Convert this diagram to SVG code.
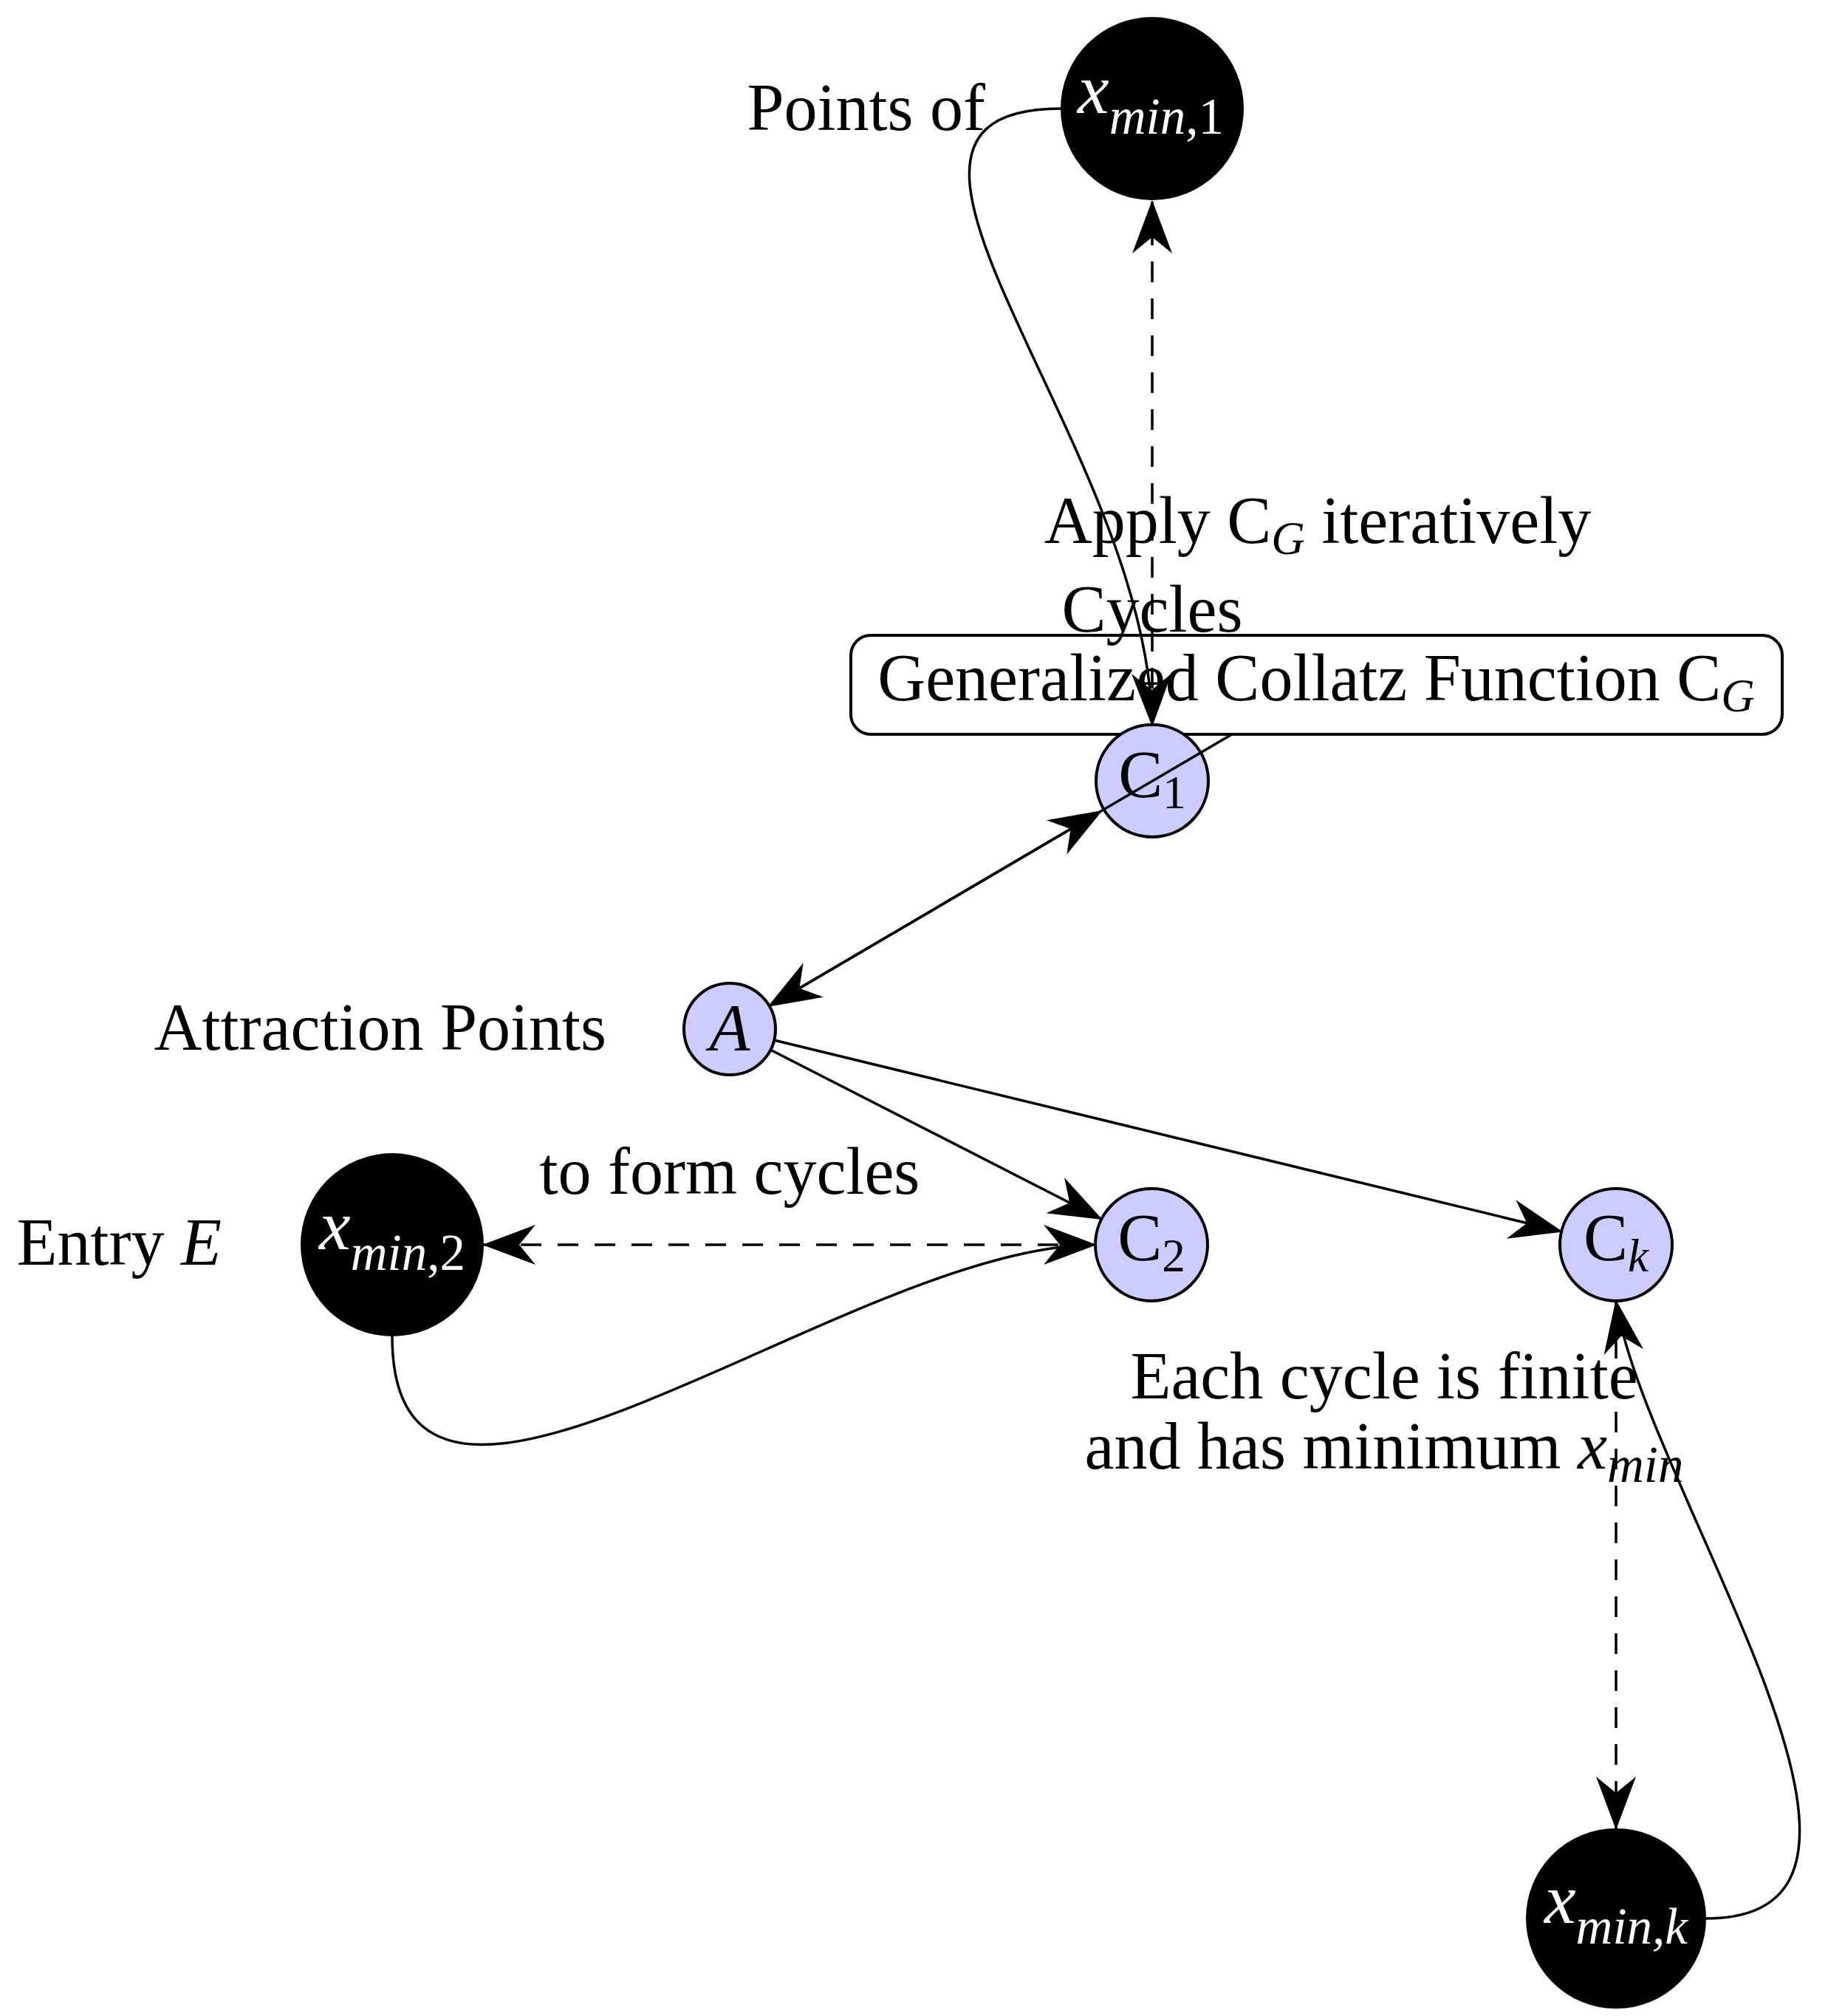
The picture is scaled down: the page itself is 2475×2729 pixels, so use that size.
<svg xmlns="http://www.w3.org/2000/svg" width="2475" height="2729" viewBox="0 0 2475 2729">
<style>
text{font-family:"Liberation Serif","Times New Roman",serif;font-size:90px;fill:#000}
.w{fill:#fff}
.it{font-style:italic}
.sub{font-size:63px}
.xl{font-size:96px}
.xs{font-size:69px}
.cyc{fill:#ccccff;stroke:#000;stroke-width:4}
.blk{fill:#000;stroke:none}
.box{fill:#fff;stroke:#000;stroke-width:4}
.ln{fill:none;stroke:#000;stroke-width:3.5}
.ds{stroke-dasharray:28 22}
</style>
<defs>
<marker id="ah" viewBox="-75 -30 80 60" refX="0" refY="0" markerWidth="80" markerHeight="60" markerUnits="userSpaceOnUse" orient="auto-start-reverse" overflow="visible">
<path d="M2,0 L-70,-27 L-48,0 L-70,27 Z" fill="#000" stroke="none"/>
</marker>
</defs>
<rect width="2475" height="2729" fill="#fff"/>

<g id="box-cg">
<rect class="box" x="1152" y="860" width="1261" height="134" rx="27"/>
<text x="1782" y="948" text-anchor="middle">Generalized Collatz Function C<tspan class="sub it" dy="15">G</tspan></text>
</g>

<g id="label-points-of"><text x="1334" y="176" text-anchor="end">Points of</text></g>
<g id="label-apply"><text x="1784" y="735" text-anchor="middle">Apply C<tspan class="sub it" dy="15">G</tspan><tspan dy="-15"> iteratively</tspan></text></g>
<g id="label-cycles"><text x="1560" y="855" text-anchor="middle">Cycles</text></g>
<g id="label-attraction"><text x="821" y="1421" text-anchor="end">Attraction Points</text></g>
<g id="label-form"><text x="988" y="1616" text-anchor="middle">to form cycles</text></g>
<g id="label-entry"><text x="300" y="1712" text-anchor="end">Entry <tspan class="it">E</tspan></text></g>
<g id="label-finite">
<text x="1874" y="1893" text-anchor="middle">Each cycle is finite</text>
<text x="1874" y="1988" text-anchor="middle">and has minimum <tspan class="it">x</tspan><tspan class="xs it" dy="18">min</tspan></text>
</g>

<g id="node-xmin1">
<circle class="blk" cx="1560" cy="147" r="124"/>
<text class="w" x="1558" y="153" text-anchor="middle"><tspan class="xl it">x</tspan><tspan class="xs it" dy="28">min</tspan><tspan class="xs">,1</tspan></text>
</g>
<g id="node-c1">
<circle class="cyc" cx="1560" cy="1057" r="76"/>
<text x="1560" y="1079" text-anchor="middle">C<tspan class="sub" dy="15">1</tspan></text>
</g>
<g id="node-a">
<circle class="cyc" cx="988" cy="1393" r="62"/>
<text class="it" x="988" y="1422" text-anchor="middle">A</text>
</g>
<g id="node-xmin2">
<circle class="blk" cx="531" cy="1685" r="124"/>
<text class="w" x="531" y="1691" text-anchor="middle"><tspan class="xl it">x</tspan><tspan class="xs it" dy="28">min</tspan><tspan class="xs">,2</tspan></text>
</g>
<g id="node-c2">
<circle class="cyc" cx="1559" cy="1685" r="76"/>
<text x="1559" y="1706" text-anchor="middle">C<tspan class="sub" dy="15">2</tspan></text>
</g>
<g id="node-ck">
<circle class="cyc" cx="2188" cy="1685" r="76"/>
<text x="2188" y="1706" text-anchor="middle">C<tspan class="sub it" dy="15">k</tspan></text>
</g>
<g id="node-xmink">
<circle class="blk" cx="2188" cy="2597" r="122"/>
<text class="w" x="2188" y="2603" text-anchor="middle"><tspan class="xl it">x</tspan><tspan class="xs it" dy="28">min,k</tspan></text>
</g>

<g id="connectors">
<path class="ln ds" d="M1560,982 L1560,273" marker-end="url(#ah)"/>
<path class="ln" d="M1436,147 C1100,147 1555,600 1560,982" marker-end="url(#ah)"/>
<path class="ln" d="M1668,994 L1041,1362" marker-end="url(#ah)"/>
<path class="ln" d="M1041,1362 L1491,1098" marker-end="url(#ah)"/>
<path class="ln" d="M1043,1421 L1491,1650" marker-end="url(#ah)"/>
<path class="ln" d="M1048,1408 L2114,1667" marker-end="url(#ah)"/>
<path class="ln ds" d="M1483,1685 L655,1685" marker-end="url(#ah)"/>
<path class="ln" d="M531,1809 C531,2200 1150,1685 1483,1685" marker-end="url(#ah)"/>
<path class="ln ds" d="M2188,1761 L2188,2475" marker-end="url(#ah)"/>
<path class="ln" d="M2310,2597 C2640,2597 2225,2010 2188,1761" marker-end="url(#ah)"/>
</g>
</svg>
